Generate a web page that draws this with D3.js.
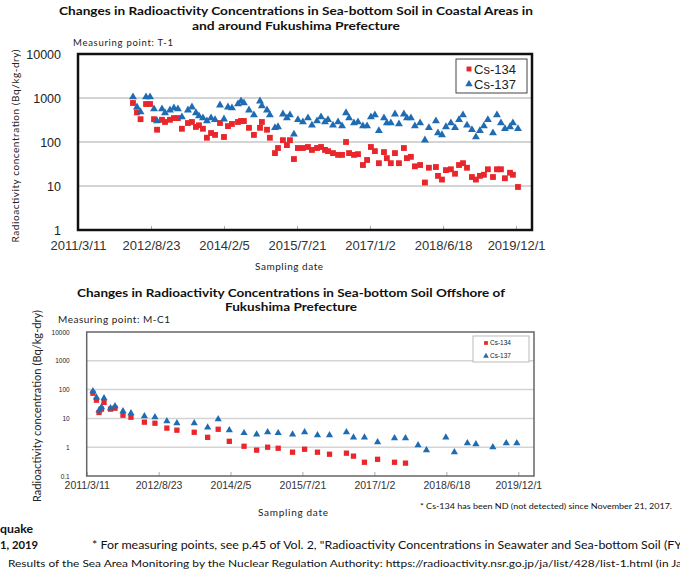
<!DOCTYPE html>
<html>
<head>
<meta charset="utf-8">
<script src="https://cdn.jsdelivr.net/npm/d3@7"></script>
<style>
  body { margin: 0; background: #fff; }
  svg text { font-family: "Liberation Sans", Arial, sans-serif; }
  .note { font-family: Lato, "Open Sans", sans-serif; }
</style>
</head>
<body>
<svg id="chart" width="680" height="572"></svg>
<script>
// Measuring point T-1 (coastal), values in Bq/kg-dry
const t1Dates = [
  "2012-04-14", "2012-05-13", "2012-06-08", "2012-07-18", "2012-08-16", "2012-09-14", "2012-10-06",
  "2012-11-11", "2012-12-03", "2013-01-08", "2013-02-06", "2013-03-07", "2013-04-05", "2013-05-19",
  "2013-06-17", "2013-07-16", "2013-08-07", "2013-09-05", "2013-10-04", "2013-11-03", "2013-12-02",
  "2014-01-07", "2014-02-05", "2014-03-06", "2014-04-04", "2014-05-18", "2014-06-09", "2014-06-30",
  "2014-08-06", "2014-09-11", "2014-10-25", "2014-11-08", "2014-12-15", "2015-01-05", "2015-02-11",
  "2015-03-05", "2015-04-10", "2015-05-09", "2015-05-31", "2015-06-29", "2015-07-28", "2015-09-02",
  "2015-10-09", "2015-11-07", "2015-12-14", "2016-01-12", "2016-02-10", "2016-03-03", "2016-04-08",
  "2016-05-15", "2016-06-13", "2016-07-12", "2016-08-03", "2016-09-08", "2016-10-07", "2016-11-12",
  "2016-12-12", "2017-01-09", "2017-02-07", "2017-03-08", "2017-04-14", "2017-05-05", "2017-06-03",
  "2017-07-03", "2017-08-01", "2017-09-06", "2017-09-28", "2017-10-27", "2017-11-25", "2018-01-02",
  "2018-02-06", "2018-03-07", "2018-04-27", "2018-05-12", "2018-06-10", "2018-07-09", "2018-08-14",
  "2018-09-13", "2018-10-12", "2018-11-10", "2018-12-09", "2019-01-14", "2019-02-12", "2019-03-13",
  "2019-04-11", "2019-05-10", "2019-06-16", "2019-07-15", "2019-08-13", "2019-09-11", "2019-10-18",
  "2019-11-08", "2019-12-15"
];
const t1Cs134 = [
  770, 470, 330, 730, 730, 330, 190, 320, 285, 320, 350, 350, 200, 270,
  285, 220, 240, 200, 125, 160, 145, 270, 130, 230, 257, 285, 300, 300,
  210, 145, 210, 285, 190, 125, 56, 73, 110, 85, 110, 41, 73, 73,
  77, 66, 73, 77, 66, 62, 56, 51, 51, 100, 56, 51, 53, 30,
  39, 77, 62, 33, 59, 43, 33, 56, 33, 73, 43, 46, 28, 30,
  12, 26, 27, 17, 14, 23, 24, 19, 30, 33, 26, 16, 14, 17,
  18, 24, 16, 24, 24, 15, 20, 18, 9.5
];
const t1Cs137 = [
  1050, 620, 480, 1050, 1050, 560, 300, 560, 460, 530, 590, 560, 370, 530,
  620, 460, 390, 350, 300, 350, 320, 690, 330, 620, 590, 730, 850, 770,
  530, 410, 850, 660, 530, 410, 210, 220, 430, 350, 410, 150, 320, 285,
  350, 240, 300, 370, 285, 320, 240, 285, 230, 460, 350, 270, 285, 230,
  230, 370, 410, 180, 350, 270, 270, 430, 257, 430, 350, 350, 230, 270,
  110, 210, 300, 160, 145, 220, 270, 210, 320, 410, 240, 190, 130, 180,
  230, 320, 160, 410, 270, 200, 220, 270, 200
];

// Measuring point M-C1 (offshore); Cs-134 not detected from 2017-11-21
const mc1Dates = [
  "2011-04-26", "2011-05-22", "2011-06-10", "2011-06-28", "2011-07-17", "2011-09-03", "2011-10-06",
  "2011-12-04", "2012-02-01", "2012-05-10", "2012-07-27", "2012-10-23", "2013-01-05", "2013-05-13",
  "2013-08-20", "2013-11-06", "2014-01-27", "2014-05-16", "2014-08-17", "2014-11-06", "2015-01-23",
  "2015-05-09", "2015-08-06", "2015-11-09", "2016-02-06", "2016-06-10", "2016-08-01", "2016-10-21",
  "2017-01-26", "2017-05-31", "2017-08-20", "2017-11-21", "2018-01-22", "2018-06-14", "2018-08-16",
  "2018-11-20", "2019-01-22", "2019-05-27", "2019-09-03", "2019-11-20"
];
const mc1Cs134 = [
  75, 43, 16, 21, 36, 21, 22.6, 12.9, 11, 7.4, 6.8, 4.6, 3.9, 3.3,
  2.2, 4.2, 1.6, 1.08, 0.79, 1.0, 0.92, 0.67, 0.85, 0.67, 0.57, 0.62, 0.49, 0.30,
  0.38, 0.30, 0.28, null, null, null, null, null, null, null, null, null
];
const mc1Cs137 = [
  88, 54, 19, 24.5, 50, 22.6, 26.5, 17.8, 15.2, 11.9, 11, 8, 6.8, 6.8,
  4.9, 9.4, 3.9, 3.1, 2.8, 3.3, 3.1, 2.8, 3.3, 2.6, 2.6, 3.3, 2.2, 2.2,
  1.5, 2.05, 2.05, 1.17, 0.79, 2.2, 0.67, 1.38, 1.27, 1.0, 1.38, 1.38
];

const seriesNames = ["Cs-134", "Cs-137"];
const xTickLabels = ["2011/3/11", "2012/8/23", "2014/2/5", "2015/7/21", "2017/1/2", "2018/6/18", "2019/12/1"];
const yTicksT1 = [1, 10, 100, 1000, 10000];
const yTicksMC1 = [0.1, 1, 10, 100, 1000, 10000];

const parseDate = d3.timeParse("%Y-%m-%d");
const parseTick = d3.timeParse("%Y/%m/%d");
const xTicks = xTickLabels.map(parseTick);
const xDomain = [parseTick("2011/3/11"), parseTick("2020/3/26")];

const svg = d3.select("#chart");

function drawChart(cfg) {
  const g = svg.append("g");
  const x = d3.scaleTime().domain(xDomain).range([cfg.left, cfg.right]);
  const y = d3.scaleLog().domain(cfg.yDomain).range([cfg.bottom, cfg.top]);

  // grid lines
  g.selectAll("line.grid")
    .data(cfg.yTicks.slice(1, -1))
    .enter()
    .append("line")
    .attr("x1", cfg.left)
    .attr("x2", cfg.right)
    .attr("y1", (d) => y(d))
    .attr("y2", (d) => y(d))
    .attr("stroke", cfg.gridColor)
    .attr("stroke-width", cfg.gridWidth);

  // axes
  const yAxis = g
    .append("g")
    .attr("transform", "translate(" + (cfg.left - 14) + ",0)")
    .call(d3.axisLeft(y).tickValues(cfg.yTicks).tickFormat((d) => String(d)).tickSize(0));
  yAxis.select(".domain").remove();
  yAxis.selectAll("text")
    .attr("font-size", cfg.yFont)
    .attr("fill", "#222");

  const xAxis = g
    .append("g")
    .attr("transform", "translate(0," + cfg.bottom + ")")
    .call(d3.axisBottom(x).tickValues(xTicks).tickFormat((d, i) => xTickLabels[i]).tickSize(-4));
  xAxis.select(".domain").remove();
  xAxis.selectAll("line").attr("stroke", "#aaa");
  xAxis.selectAll("text")
    .attr("font-size", cfg.xFont)
    .attr("fill", "#333")
    .attr("y", cfg.xLabelDy)
    .attr("dy", "0.35em");

  // plot frame
  g.append("rect")
    .attr("x", cfg.left)
    .attr("y", cfg.top)
    .attr("width", cfg.right - cfg.left)
    .attr("height", cfg.bottom - cfg.top)
    .attr("fill", "none")
    .attr("stroke", cfg.frameColor)
    .attr("stroke-width", cfg.frameWidth);

  const rows = cfg.dates.map((d, i) => ({ date: parseDate(d), a: cfg.cs134[i], b: cfg.cs137[i] }));
  const square = d3.symbol().type(d3.symbolSquare).size(cfg.markSize);
  const tri = d3.symbol().type(d3.symbolTriangle).size(cfg.markSize * 0.8);

  g.selectAll("path.cs134")
    .data(rows.filter((r) => r.a != null))
    .enter()
    .append("path")
    .attr("d", square)
    .attr("transform", (r) => "translate(" + x(r.date) + "," + y(r.a) + ")")
    .attr("fill", "#e8262b");

  g.selectAll("path.cs137")
    .data(rows.filter((r) => r.b != null))
    .enter()
    .append("path")
    .attr("d", tri)
    .attr("transform", (r) => "translate(" + x(r.date) + "," + y(r.b) + ")")
    .attr("fill", "#1f6cb3");

  // legend
  const lg = cfg.legend;
  g.append("rect")
    .attr("x", lg.x)
    .attr("y", lg.y)
    .attr("width", lg.w)
    .attr("height", lg.h)
    .attr("fill", "#fff")
    .attr("stroke", lg.stroke)
    .attr("stroke-width", 1);
  const legendMarks = [d3.symbol().type(d3.symbolSquare).size(lg.mark), d3.symbol().type(d3.symbolTriangle).size(lg.mark)];
  const legendColors = ["#e8262b", "#1f6cb3"];
  seriesNames.forEach((name, i) => {
    const cy = lg.y + lg.rowY[i];
    g.append("path")
      .attr("d", legendMarks[i])
      .attr("transform", "translate(" + lg.markX + "," + cy + ")")
      .attr("fill", legendColors[i]);
    g.append("text")
      .attr("x", lg.textX)
      .attr("y", cy)
      .attr("dy", "0.35em")
      .attr("font-size", lg.font)
      .attr("fill", "#222")
      .text(name);
  });

  // titles and labels
  cfg.title.forEach((t, i) => {
    g.append("text")
      .attr("class", "note")
      .attr("x", cfg.titleX)
      .attr("y", cfg.titleY[i])
      .attr("text-anchor", "middle")
      .attr("font-size", cfg.titleFont)
      .attr("font-weight", "bold")
      .attr("textLength", cfg.titleLen[i])
      .attr("lengthAdjust", "spacingAndGlyphs")
      .attr("fill", "#111")
      .text(t);
  });
  g.append("text")
    .attr("class", "note")
    .attr("x", cfg.pointPos[0])
    .attr("y", cfg.pointPos[1])
    .attr("font-size", cfg.pointFont)
    .attr("textLength", cfg.pointLen)
    .attr("fill", "#222")
    .text(cfg.pointText);
  g.append("text")
    .attr("class", "note")
    .attr("x", cfg.xTitlePos[0])
    .attr("y", cfg.xTitlePos[1])
    .attr("text-anchor", "middle")
    .attr("font-size", cfg.xTitleFont)
    .attr("textLength", cfg.xTitleLen)
    .attr("fill", "#222")
    .text("Sampling date");
  g.append("text")
    .attr("class", "note")
    .attr("transform", "translate(" + cfg.yTitlePos[0] + "," + cfg.yTitlePos[1] + ") rotate(-90)")
    .attr("text-anchor", "middle")
    .attr("dy", "0.35em")
    .attr("font-size", cfg.yTitleFont)
    .attr("textLength", cfg.yTitleLen)
    .attr("fill", "#222")
    .text("Radioactivity concentration (Bq/kg-dry)");
}

drawChart({
  left: 78, right: 532, top: 54, bottom: 230,
  yDomain: [1, 10000], yTicks: yTicksT1,
  dates: t1Dates, cs134: t1Cs134, cs137: t1Cs137,
  gridColor: "#aaa", gridWidth: 1, frameColor: "#111", frameWidth: 2.5,
  yFont: 12.5, xFont: 13, xLabelDy: 15,
  markSize: 34,
  legend: { x: 456, y: 59, w: 71, h: 34, stroke: "#444", mark: 24, markX: 469, textX: 474, rowY: [10, 25], font: 13 },
  title: ["Changes in Radioactivity Concentrations in Sea-bottom Soil in Coastal Areas in", "and around Fukushima Prefecture"],
  titleX: 296, titleY: [15, 30], titleFont: 12, titleLen: [474, 208],
  pointText: "Measuring point: T-1", pointPos: [73, 46], pointFont: 9.5, pointLen: 100,
  xTitlePos: [289, 270], xTitleFont: 10, xTitleLen: 68,
  yTitlePos: [15, 146], yTitleFont: 10, yTitleLen: 193
});

drawChart({
  left: 86.7, right: 534, top: 332, bottom: 476,
  yDomain: [0.1, 10000], yTicks: yTicksMC1,
  dates: mc1Dates, cs134: mc1Cs134, cs137: mc1Cs137,
  gridColor: "#d4d4d4", gridWidth: 1.5, frameColor: "#666", frameWidth: 1.5,
  yFont: 6.5, xFont: 10.5, xLabelDy: 9,
  markSize: 28,
  legend: { x: 473, y: 336, w: 56, h: 26, stroke: "#bbb", mark: 14, markX: 486, textX: 490, rowY: [7, 20], font: 6.5 },
  title: ["Changes in Radioactivity Concentrations in Sea-bottom Soil Offshore of", "Fukushima Prefecture"],
  titleX: 291, titleY: [297, 311], titleFont: 12, titleLen: [428, 132],
  pointText: "Measuring point: M-C1", pointPos: [58, 323], pointFont: 10, pointLen: 112,
  xTitlePos: [293, 516], xTitleFont: 10, xTitleLen: 70,
  yTitlePos: [37, 406], yTitleFont: 11, yTitleLen: 192
});

// notes under the charts
const notes = [
  { text: "* Cs-134 has been ND (not detected)  since November 21, 2017.", x: 420, y: 509, size: 8.2, len: 252, bold: false },
  { text: "quake", x: 0, y: 533, size: 11, len: 33, bold: true },
  { text: "1, 2019", x: 0, y: 549, size: 11, len: 38, bold: true },
  { text: "* For measuring points, see p.45 of Vol. 2, \"Radioactivity Concentrations in Seawater and Sea-bottom Soil (FY", x: 92, y: 549, size: 10.5, len: 590, bold: false },
  { text: "Results of the Sea Area Monitoring by the Nuclear Regulation Authority:  https://radioactivity.nsr.go.jp/ja/list/428/list-1.html  (in Ja", x: 8, y: 567, size: 9.5, len: 674, bold: false }
];
svg.selectAll("text.foot")
  .data(notes)
  .enter()
  .append("text")
  .attr("class", "note foot")
  .attr("x", (d) => d.x)
  .attr("y", (d) => d.y)
  .attr("font-size", (d) => d.size)
  .attr("font-weight", (d) => (d.bold ? "bold" : "normal"))
  .attr("textLength", (d) => d.len)
  .attr("lengthAdjust", "spacingAndGlyphs")
  .attr("fill", "#111")
  .text((d) => d.text);
</script>
</body>
</html>
